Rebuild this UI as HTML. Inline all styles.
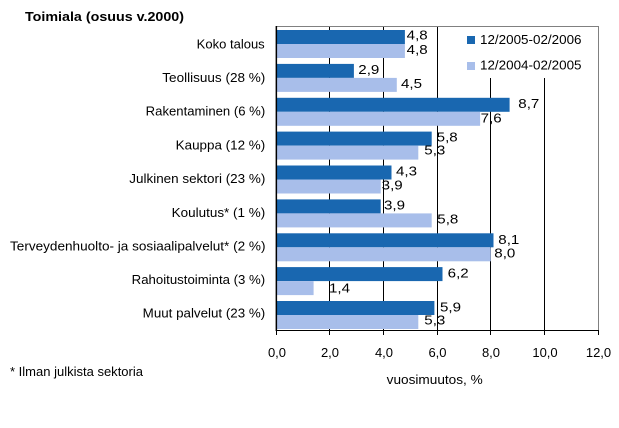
<!DOCTYPE html>
<html>
<head>
<meta charset="utf-8">
<style>
  html,body{margin:0;padding:0;background:#fff;}
  svg{display:block;}
  text{font-family:"Liberation Sans",Arial,sans-serif;font-size:13px;fill:#000;}
</style>
</head>
<body>
<svg width="619" height="428" viewBox="0 0 619 428" xmlns="http://www.w3.org/2000/svg">
  <rect x="0" y="0" width="619" height="428" fill="#fff"/>

  <!-- Title -->
  <text x="25" y="21" font-weight="bold" textLength="159" lengthAdjust="spacingAndGlyphs">Toimiala (osuus v.2000)</text>

  <!-- gridlines -->
  <g stroke="#000" stroke-width="1">
    <line x1="329.5" y1="26" x2="329.5" y2="330"/>
    <line x1="383.5" y1="26" x2="383.5" y2="330"/>
    <line x1="437.5" y1="26" x2="437.5" y2="330"/>
    <line x1="490.5" y1="26" x2="490.5" y2="330"/>
    <line x1="544.5" y1="26" x2="544.5" y2="330"/>
  </g>
  <!-- top and right border (gray) -->
  <line x1="276" y1="26.5" x2="598.5" y2="26.5" stroke="#808080" stroke-width="1"/>
  <line x1="598.5" y1="26" x2="598.5" y2="330" stroke="#808080" stroke-width="1"/>

  <!-- legend background -->
  <rect x="446" y="27" width="152" height="51" fill="#fff"/>

  <!-- bars -->
  <g fill="#1967B0">
    <rect x="276" y="30" width="128.9" height="14"/>
    <rect x="276" y="63.9" width="77.9" height="14"/>
    <rect x="276" y="97.8" width="233.6" height="14"/>
    <rect x="276" y="131.6" width="155.7" height="14"/>
    <rect x="276" y="165.5" width="115.5" height="14"/>
    <rect x="276" y="199.4" width="104.7" height="14"/>
    <rect x="276" y="233.3" width="217.5" height="14"/>
    <rect x="276" y="267.1" width="166.5" height="14"/>
    <rect x="276" y="301" width="158.4" height="14"/>
  </g>
  <g fill="#A8BEEA">
    <rect x="276" y="44" width="128.9" height="14"/>
    <rect x="276" y="77.9" width="120.8" height="14"/>
    <rect x="276" y="111.8" width="204.1" height="14"/>
    <rect x="276" y="145.6" width="142.3" height="14"/>
    <rect x="276" y="179.5" width="104.7" height="14"/>
    <rect x="276" y="213.4" width="155.7" height="14"/>
    <rect x="276" y="247.3" width="214.8" height="14"/>
    <rect x="276" y="281.1" width="37.6" height="14"/>
    <rect x="276" y="315" width="142.3" height="14"/>
  </g>

  <!-- axes -->
  <rect x="275.6" y="26" width="1.5" height="305" fill="#000"/>
  <line x1="276" y1="330.5" x2="599" y2="330.5" stroke="#000" stroke-width="1"/>
  <g stroke="#000" stroke-width="1">
    <line x1="276.5" y1="330" x2="276.5" y2="335"/>
    <line x1="329.5" y1="330" x2="329.5" y2="335"/>
    <line x1="383.5" y1="330" x2="383.5" y2="335"/>
    <line x1="437.5" y1="330" x2="437.5" y2="335"/>
    <line x1="490.5" y1="330" x2="490.5" y2="335"/>
    <line x1="544.5" y1="330" x2="544.5" y2="335"/>
    <line x1="598.5" y1="330" x2="598.5" y2="335"/>
  </g>

  <!-- category labels -->
  <text x="196.7" y="48.3" textLength="68" lengthAdjust="spacingAndGlyphs">Koko talous</text>
  <text x="162.3" y="82" textLength="103" lengthAdjust="spacingAndGlyphs">Teollisuus (28 %)</text>
  <text x="145.7" y="115.7" textLength="119.5" lengthAdjust="spacingAndGlyphs">Rakentaminen (6 %)</text>
  <text x="175.7" y="149.4" textLength="89.5" lengthAdjust="spacingAndGlyphs">Kauppa (12 %)</text>
  <text x="129.3" y="183.1" textLength="136" lengthAdjust="spacingAndGlyphs">Julkinen sektori (23 %)</text>
  <text x="171.7" y="216.8" textLength="93.5" lengthAdjust="spacingAndGlyphs">Koulutus* (1 %)</text>
  <text x="10" y="250.5" textLength="255.5" lengthAdjust="spacingAndGlyphs">Terveydenhuolto- ja sosiaalipalvelut* (2 %)</text>
  <text x="131.7" y="284.2" textLength="133.5" lengthAdjust="spacingAndGlyphs">Rahoitustoiminta (3 %)</text>
  <text x="142.7" y="317.6" textLength="122.5" lengthAdjust="spacingAndGlyphs">Muut palvelut (23 %)</text>

  <!-- value labels -->
  <g>
    <text x="406.7" y="39.7" textLength="21" lengthAdjust="spacingAndGlyphs">4,8</text>
    <text x="406.7" y="54" textLength="21" lengthAdjust="spacingAndGlyphs">4,8</text>
    <text x="358.3" y="74" textLength="21" lengthAdjust="spacingAndGlyphs">2,9</text>
    <text x="401" y="88" textLength="21" lengthAdjust="spacingAndGlyphs">4,5</text>
    <text x="518.3" y="108" textLength="21" lengthAdjust="spacingAndGlyphs">8,7</text>
    <text x="480.7" y="122.4" textLength="21" lengthAdjust="spacingAndGlyphs">7,6</text>
    <text x="436.7" y="141.4" textLength="21" lengthAdjust="spacingAndGlyphs">5,8</text>
    <text x="424.3" y="154.7" textLength="21" lengthAdjust="spacingAndGlyphs">5,3</text>
    <text x="396" y="175.4" textLength="21" lengthAdjust="spacingAndGlyphs">4,3</text>
    <text x="381.7" y="189.7" textLength="21" lengthAdjust="spacingAndGlyphs">3,9</text>
    <text x="384" y="209.7" textLength="21" lengthAdjust="spacingAndGlyphs">3,9</text>
    <text x="437.3" y="223.7" textLength="21" lengthAdjust="spacingAndGlyphs">5,8</text>
    <text x="498.3" y="244" textLength="21" lengthAdjust="spacingAndGlyphs">8,1</text>
    <text x="494.3" y="257.4" textLength="21" lengthAdjust="spacingAndGlyphs">8,0</text>
    <text x="447.7" y="277.4" textLength="21" lengthAdjust="spacingAndGlyphs">6,2</text>
    <text x="329" y="292.4" textLength="21" lengthAdjust="spacingAndGlyphs">1,4</text>
    <text x="440" y="311.4" textLength="21" lengthAdjust="spacingAndGlyphs">5,9</text>
    <text x="424.3" y="324.7" textLength="21" lengthAdjust="spacingAndGlyphs">5,3</text>
  </g>

  <!-- legend -->
  <rect x="467" y="36" width="8" height="8" fill="#1967B0"/>
  <text x="480" y="44" textLength="101.5" lengthAdjust="spacingAndGlyphs">12/2005-02/2006</text>
  <rect x="467" y="62" width="8" height="8" fill="#A8BEEA"/>
  <text x="480" y="69.5" textLength="101.5" lengthAdjust="spacingAndGlyphs">12/2004-02/2005</text>

  <!-- tick labels -->
  <g text-anchor="middle">
    <text x="277" y="357">0,0</text>
    <text x="330" y="357">2,0</text>
    <text x="384" y="357">4,0</text>
    <text x="437.5" y="357">6,0</text>
    <text x="491" y="357">8,0</text>
    <text x="545" y="357">10,0</text>
    <text x="598.5" y="357">12,0</text>
  </g>

  <!-- axis title -->
  <text x="386.7" y="384" textLength="96" lengthAdjust="spacingAndGlyphs">vuosimuutos, %</text>

  <!-- footnote -->
  <text x="10" y="376" textLength="133" lengthAdjust="spacingAndGlyphs">* Ilman julkista sektoria</text>
</svg>
</body>
</html>
